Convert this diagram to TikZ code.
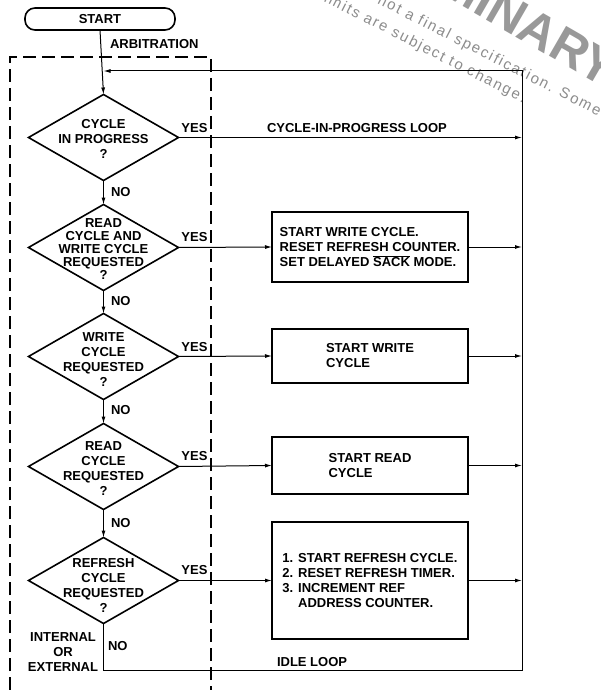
\documentclass[tikz,border=0pt]{standalone}
\usepackage{fontspec}
\setmainfont{Liberation Sans}
\newfontfamily\wmfont[LetterSpace=12]{Liberation Sans}
\usetikzlibrary{arrows.meta,shapes.geometric}
\begin{document}
\begin{tikzpicture}[x=1pt,y=-1pt,
  every node/.style={font=\fontsize{13}{15}\selectfont\bfseries, inner sep=0pt, outer sep=0pt},
  dia/.style={draw, diamond, line width=1.6pt, minimum width=150pt, minimum height=86pt, inner sep=0pt},
  actbox/.style={draw, line width=1.6pt, minimum width=196pt, align=left},
  arr/.style={line width=1pt, -{Latex[length=7pt,width=4pt]}},
  dashbox/.style={line width=1.1pt, dash pattern=on 13pt off 6pt},
  wm/.style={text=black!45, font=\wmfont\fontsize{15}{18}\selectfont}
]
\useasboundingbox (0,0) rectangle (601,690);

% watermark (partly outside the page)
\node[text=black!40, font=\fontsize{50}{50}\selectfont\bfseries, rotate=-30, anchor=mid east] (wmbig) at (606,86) {PRELIMINARY};
\node[wm, rotate=-27, anchor=base east] (wm1) at (598,116) {This is not a final specification. Some};
\node[wm, rotate=-27, anchor=base east] (wm2) at (523,103) {parametric limits are subject to change.};

% dashed arbitration region
\draw[dashbox] (10,690) -- (10,57) -- (211,57) -- (211,690);

% start
\node[draw, line width=1.6pt, rounded corners=10pt, minimum width=150pt, minimum height=22pt] (start) at (100,19) {START};
\node[anchor=west] (arb) at (110,44) {ARBITRATION};

% decisions
\node[dia] (d1) at (103.5,137.5) {};
\node[dia] (d2) at (103.5,247.5) {};
\node[dia] (d3) at (103.5,356.5) {};
\node[dia] (d4) at (103.5,466.5) {};
\node[dia] (d5) at (103.5,580.5) {};

\node[align=center] (t1) at (103.5,138.5) {CYCLE\\IN PROGRESS\\?};
\node[align=center, font=\fontsize{13}{13}\selectfont\bfseries] (t2) at (103.5,249) {READ\\CYCLE AND\\WRITE CYCLE\\REQUESTED\\?};
\node[align=center] (t3) at (103.5,359.5) {WRITE\\CYCLE\\REQUESTED\\?};
\node[align=center] (t4) at (103.5,468.5) {READ\\CYCLE\\REQUESTED\\?};
\node[align=center] (t5) at (103.5,585.5) {REFRESH\\CYCLE\\REQUESTED\\?};

% action boxes
\node[actbox, minimum height=70pt] (bA) at (370,247) {START WRITE CYCLE.\\RESET REFRESH COUNTER.\\SET DELAYED $\overline{\hbox{SACK}}$ MODE.};
\node[actbox, minimum height=54pt] (bB) at (370,356) {START WRITE\\CYCLE};
\node[actbox, minimum height=57pt] (bC) at (370,465.5) {START READ\\CYCLE};
\node[actbox, minimum height=117pt] (bD) at (370,580.5) {1. START REFRESH CYCLE.\\2. RESET REFRESH TIMER.\\3. INCREMENT REF\\\phantom{3. }ADDRESS COUNTER.};

% right collecting line coordinates
\coordinate (r1) at (522,137.5);
\coordinate (rA) at (522,247);
\coordinate (rB) at (522,356);
\coordinate (rC) at (522,465.5);
\coordinate (rD) at (522,580.5);
\coordinate (bl) at (103.5,670);
\coordinate (br) at (522,670);
\coordinate (tr) at (522,71);
\coordinate (tl) at (103.5,71);

% main flow
\draw[arr] (start.south) -- (d1.north);
\draw[arr] (d1.south) -- (d2.north);
\draw[arr] (d2.south) -- (d3.north);
\draw[arr] (d3.south) -- (d4.north);
\draw[arr] (d4.south) -- (d5.north);

% yes branches
\draw[arr] (d1.east) -- (r1);
\draw[arr] (d2.east) -- (bA.west);
\draw[arr] (d3.east) -- (bB.west);
\draw[arr] (d4.east) -- (bC.west);
\draw[arr] (d5.east) -- (bD.west);
\draw[arr] (bA.east) -- (rA);
\draw[arr] (bB.east) -- (rB);
\draw[arr] (bC.east) -- (rC);
\draw[arr] (bD.east) -- (rD);

% loop back
\draw[arr] (d5.south) -- (bl) -- (br) -- (tr) -- (tl);

% labels
\node (y1) at (194.5,128) {YES};
\node (y2) at (194.5,237.5) {YES};
\node (y3) at (194.5,347) {YES};
\node (y4) at (194.5,456) {YES};
\node (y5) at (194.5,570) {YES};
\node[anchor=west] (n1) at (111,192) {NO};
\node[anchor=west] (n2) at (111,301) {NO};
\node[anchor=west] (n3) at (111,410) {NO};
\node[anchor=west] (n4) at (111,523) {NO};
\node[anchor=west] (n5) at (108,646) {NO};
\node[align=center] (ie) at (63,652) {INTERNAL\\OR\\EXTERNAL};
\node[anchor=west] (cip) at (267,128) {CYCLE-IN-PROGRESS LOOP};
\node[anchor=west] (idle) at (277,662) {IDLE LOOP};
\end{tikzpicture}
\end{document}
